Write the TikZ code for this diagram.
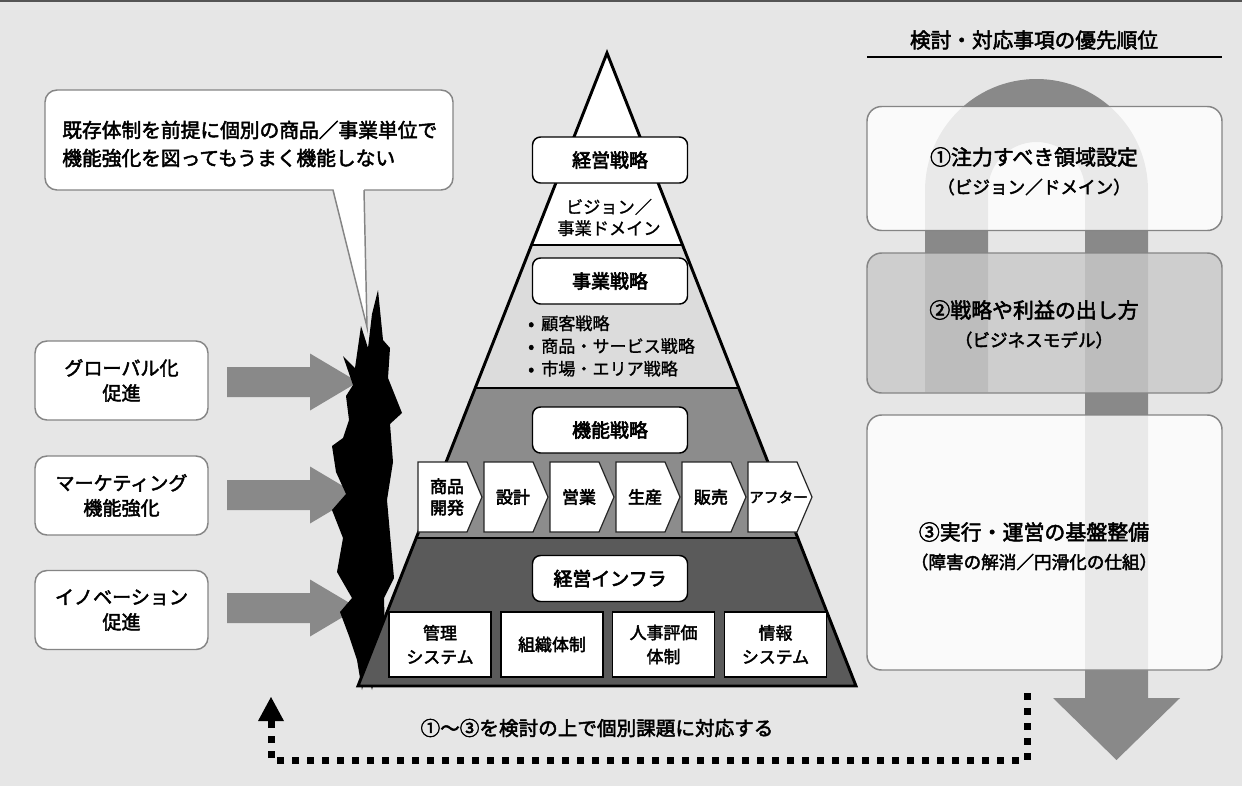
\documentclass[tikz,border=0pt]{standalone}
\usepackage{fontspec}
\setmainfont{Noto Sans CJK JP}
\newfontfamily\jpr[FakeBold=1.2]{Noto Sans CJK JP}
\newfontfamily\jpm[FakeBold=2.4]{Noto Sans CJK JP}
\newfontfamily\jpb[FakeBold=3.2]{Noto Sans CJK JP}
\usetikzlibrary{calc}
\definecolor{bgc}{HTML}{E6E6E6}
\definecolor{topline}{HTML}{555555}
\definecolor{arrowc}{HTML}{898989}
\definecolor{layB}{HTML}{DCDCDC}
\definecolor{layC}{HTML}{8C8C8C}
\definecolor{layD}{HTML}{5A5A5A}
\definecolor{bordc}{HTML}{858585}
\definecolor{boxtwo}{HTML}{C9C9C9}
\tikzset{
  lbox/.style={draw=bordc, line width=1.1pt, fill=white, rounded corners=9pt,
    minimum width=129.75pt, minimum height=59.25pt, align=center,
    font=\jpm\fontsize{14.3}{18.75}\selectfont},
  rbox/.style={draw=bordc, line width=1.1pt, rounded corners=11pt,
    minimum width=266.25pt, fill opacity=0.82, draw opacity=1},
  rtxtA/.style={inner sep=0, font=\jpm\fontsize{15.7}{18}\selectfont},
  rtxtB/.style={inner sep=0, font=\jpm\fontsize{13.2}{16}\selectfont},
  pbox/.style={draw=black, line width=1.1pt, fill=white, rounded corners=6pt,
    minimum width=116.25pt, minimum height=34.5pt,
    font=\jpb\fontsize{14.2}{17}\selectfont},
  chev/.style={draw=black!85, line width=0.9pt, fill=white},
  chevtxt/.style={inner sep=0, align=center, font=\jpb\fontsize{12.7}{16}\selectfont},
  ibox/.style={draw=black, line width=1.1pt, fill=white,
    minimum width=76.5pt, minimum height=48.75pt, align=center,
    font=\jpm\fontsize{12.7}{18}\selectfont},
  fatarrow/.style={fill=arrowc},
  dotline/.style={line width=5.25pt, dash pattern=on 5.25pt off 6pt},
  plain/.style={inner sep=0}
}
\begin{document}
\begin{tikzpicture}[x=0.75pt,y=-0.75pt]
\useasboundingbox (0,0) rectangle (1242,786);
\fill[bgc] (0,0) rectangle (1242,786);
\draw[topline, line width=1.5pt] (0,0.5) -- (1242,0.5);

% ---------- callout ----------
\draw[fill=white, draw=bordc, line width=1.1pt, rounded corners=9pt] (45,90) rectangle (453,190);
\fill[white] (333.2,187.5) -- (367,327) -- (364,187.5) -- cycle;
\draw[bordc, line width=1.1pt] (333,190) -- (367,327) -- (364,190);
\node[plain, anchor=west, align=left, font=\jpm\fontsize{14.8}{21}\selectfont] (callouttxt) at (62,144)
  {既存体制を前提に個別の商品／事業単位で\\機能強化を図ってもうまく機能しない};

% ---------- left boxes ----------
\node[lbox] (gl) at (121.5,380.5) {グローバル化\\促進};
\node[lbox] (mk) at (121.5,495.5) {マーケティング\\機能強化};
\node[lbox] (in) at (121.5,610) {イノベーション\\促進};

% ---------- fat gray arrows ----------
\foreach \yy/\nm in {382/a1,495/a2,608/a3}{
  \coordinate (\nm s) at (227,\yy);
  \coordinate (\nm t) at (358,\yy);
  \fill[fatarrow] (227,\yy-15) -- (310,\yy-15) -- (310,\yy-28.5) -- (\nm t)
    -- (310,\yy+28.5) -- (310,\yy+15) -- (227,\yy+15) -- cycle;
}

% ---------- burst ----------
\fill[black] (378,290) -- (383,340) -- (390,348) -- (388,378) -- (402,413) -- (390,424)
  -- (393,462) -- (387,500) -- (391,545) -- (394,578) -- (384,598) -- (385,635)
  -- (379,660) -- (372,690) -- (367,668) -- (362,690) -- (357,660) -- (349,636)
  -- (340,612) -- (352,598) -- (337,572) -- (343,538) -- (332,510) -- (346,494)
  -- (336,472) -- (332,446) -- (343,438) -- (349,420) -- (346,396) -- (353,385)
  -- (343,356) -- (355,368) -- (361,326) -- (368,348) -- (372,314) -- cycle;

% ---------- pyramid ----------
\coordinate (apex) at (607,53);
\coordinate (bl) at (358,686);
\coordinate (br) at (856,686);
\fill[white] (apex) -- (531.5,245) -- (682.5,245) -- cycle;
\fill[layB] (531.5,245) -- (682.5,245) -- (738.8,388) -- (475.2,388) -- cycle;
\fill[layC] (475.2,388) -- (738.8,388) -- (797.8,538) -- (416.2,538) -- cycle;
\fill[layD] (416.2,538) -- (797.8,538) -- (br) -- (bl) -- cycle;
\draw[line width=2.2pt] (531.5,245) -- (682.5,245);
\draw[line width=2.2pt] (475.2,388) -- (738.8,388);
\draw[line width=2.2pt] (416.2,538) -- (797.8,538);
\draw[line width=2.2pt] (apex) -- (bl) -- (br) -- cycle;

\node[pbox] (keiei) at (610,160) {経営戦略};
\node[plain, align=center, font=\jpr\fontsize{12.9}{16}\selectfont] (vision) at (609,217.5) {ビジョン／\\事業ドメイン};
\node[pbox] (jigyo) at (610,281) {事業戦略};
\node[plain, anchor=west, align=left, font=\jpr\fontsize{12.8}{17}\selectfont] (bullets) at (521,346)
  {\makebox[15pt][c]{\jpb •}顧客戦略\\\makebox[15pt][c]{\jpb •}商品・サービス戦略\\\makebox[15pt][c]{\jpb •}市場・エリア戦略};
\node[pbox] (kino) at (610,430) {機能戦略};

\foreach \L/\nm/\txt in {418/c1/{商品\\開発},484/c2/設計,550/c3/営業,616/c4/生産,682/c5/販売}{
  \draw[chev] (\L,462) -- (\L+49,462) -- (\L+64,497) -- (\L+49,532) -- (\L,532) -- cycle;
  \node[chevtxt] (\nm) at (\L+29,497) {\txt};
}
\draw[chev] (748,462) -- (797,462) -- (812,497) -- (797,532) -- (748,532) -- cycle;
\node[chevtxt, font=\jpm\fontsize{11}{14}\selectfont] (c6) at (778.5,497) {アフター};

\node[pbox] (infra) at (610,578.5) {経営インフラ};
\node[ibox] (b1) at (440,644.5) {管理\\システム};
\node[ibox] (b2) at (552,644.5) {組織体制};
\node[ibox] (b3) at (663.5,644.5) {人事評価\\体制};
\node[ibox] (b4) at (775.5,644.5) {情報\\システム};

% ---------- right side ----------
\node[plain, font=\jpm\fontsize{15.5}{18}\selectfont] (title) at (1034,40) {検討・対応事項の優先順位};
\draw[line width=1.1pt] (867,57) -- (1222,57);

\fill[arrowc] (925,392) -- (925,190.5) arc[start angle=180, end angle=0, radius=83.625pt]
  -- (1148,698) -- (1180,698) -- (1116.5,760) -- (1053,698) -- (1085,698)
  -- (1085,190.5) arc[start angle=0, end angle=180, radius=36.375pt]
  -- (988,392) -- cycle;

\node[rbox, fill=white, minimum height=93pt] (r1) at (1044.5,168.5) {};
\node[rbox, fill=boxtwo, minimum height=105pt] (r2) at (1044.5,323) {};
\node[rbox, fill=white, minimum height=191.25pt] (r3) at (1044.5,542.5) {};

\node[rtxtA] (r1a) at (1034,157) {①注力すべき領域設定};
\node[rtxtB] (r1b) at (1034,187) {（ビジョン／ドメイン）};
\node[rtxtA] (r2a) at (1034,310) {②戦略や利益の出し方};
\node[rtxtB] (r2b) at (1034,340) {（ビジネスモデル）};
\node[rtxtA] (r3a) at (1034,532) {③実行・運営の基盤整備};
\node[rtxtB] (r3b) at (1034,562) {（障害の解消／円滑化の仕組）};

% ---------- dotted feedback ----------
\coordinate (dtop) at (1027,693);
\coordinate (dcr) at (1027,760);
\coordinate (dcl) at (271,760);
\coordinate (dend) at (271,721);
\draw[dotline] (dtop) -- (dcr) -- (dcl) -- (dend);
\coordinate (dtip) at (271,697);
\fill[black] (258,721) -- (dtip) -- (284,721) -- cycle;
\node[plain, font=\jpm\fontsize{14.7}{17}\selectfont] (fb) at (597,728) {①〜③を検討の上で個別課題に対応する};
\end{tikzpicture}
\end{document}
